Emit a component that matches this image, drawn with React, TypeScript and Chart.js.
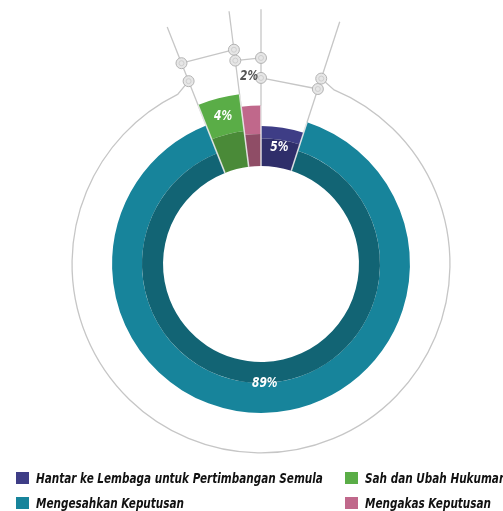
import React, { useEffect, useRef } from 'react';
import { Chart, registerables } from 'chart.js';

Chart.register(...registerables);

// ---- data ----
const categories = [
  'Hantar ke Lembaga untuk Pertimbangan Semula',
  'Mengesahkan Keputusan',
  'Sah dan Ubah Hukuman',
  'Mengakas Keputusan',
];
const values = [5, 89, 4, 2];
const valueLabels = ['5%', '89%', '4%', '2%'];
const legendOrder = [0, 2, 1, 3];

// ---- styling ----
const lightColors = ['#3e3d86', '#17849b', '#5aad47', '#c0688b'];
const darkColors = ['#2f2e6a', '#126474', '#4a8a38', '#8f4d66'];
const labelColors = ['#ffffff', '#ffffff', '#ffffff', '#555555'];
// radial extents as fractions of the chart's outer radius
const HOLE = 0.573;
const bandSplit = [0.735, 0.696, 0.784, 0.76];
const segOuter = [0.807, 0.871, 1.0, 0.927];
const labelRadius = [0.69, 0.696, 0.89, 1.1];

const FONT = '"Liberation Sans Narrow", "DejaVu Sans Condensed", "Noto Sans", sans-serif';

const shapePlugin = {
  id: 'shapePlugin',
  afterDatasetsUpdate(chart: any) {
    const ca = chart.chartArea;
    const R = Math.min(ca.right - ca.left, ca.bottom - ca.top) / 2;
    const m0 = chart.getDatasetMeta(0);
    const m1 = chart.getDatasetMeta(1);
    m0.data.forEach((arc: any, i: number) => {
      arc.innerRadius = HOLE * R;
      arc.outerRadius = bandSplit[i] * R;
    });
    m1.data.forEach((arc: any, i: number) => {
      arc.innerRadius = bandSplit[i] * R;
      arc.outerRadius = segOuter[i] * R;
    });
  },
  beforeDatasetsDraw(chart: any) {
    const ctx = chart.ctx;
    const ca = chart.chartArea;
    const R = Math.min(ca.right - ca.left, ca.bottom - ca.top) / 2;
    const cx = (ca.left + ca.right) / 2;
    const cy = (ca.top + ca.bottom) / 2;
    const arcs = chart.getDatasetMeta(1).data;
    const b = arcs.map((a: any) => a.startAngle);
    const pt = (ang: number, rf: number) => [cx + Math.cos(ang) * rf * R, cy + Math.sin(ang) * rf * R];

    ctx.save();
    ctx.strokeStyle = '#c6c6c6';
    ctx.lineWidth = 1.3;
    // radial guide lines
    b.forEach((ang: number) => {
      const [x1, y1] = pt(ang, HOLE);
      const [x2, y2] = pt(ang, 1.49);
      ctx.beginPath();
      ctx.moveTo(x1, y1);
      ctx.lineTo(x2, y2);
      ctx.stroke();
    });
    // outer ring
    const G = pt(b[1], 1.14);
    const H = pt(b[2], 1.15);
    ctx.beginPath();
    ctx.moveTo(G[0], G[1]);
    ctx.arc(cx, cy, 1.105 * R, b[1] + 0.08, b[2] - 0.08);
    ctx.lineTo(H[0], H[1]);
    ctx.stroke();
    // network links
    const A = pt(b[2], 1.263);
    const B = pt(b[3], 1.263);
    const C = pt(b[3], 1.199);
    const D = pt(b[0], 1.205);
    const E = pt(b[0], 1.088);
    const F = pt(b[1], 1.076);
    [[A, B], [C, D], [E, F]].forEach(([p, q]) => {
      ctx.beginPath();
      ctx.moveTo(p[0], p[1]);
      ctx.lineTo(q[0], q[1]);
      ctx.stroke();
    });
    ctx.restore();
    chart.$nodes = [A, B, C, D, E, F, G, H];
  },
  afterDatasetsDraw(chart: any) {
    const ctx = chart.ctx;
    const ca = chart.chartArea;
    const R = Math.min(ca.right - ca.left, ca.bottom - ca.top) / 2;
    const cx = (ca.left + ca.right) / 2;
    const cy = (ca.top + ca.bottom) / 2;
    const arcs = chart.getDatasetMeta(1).data;
    ctx.save();
    // separators between segments
    ctx.strokeStyle = 'rgba(235,235,235,0.9)';
    ctx.lineWidth = 1.5;
    arcs.forEach((a: any, i: number) => {
      const prev = (i + arcs.length - 1) % arcs.length;
      const rOut = Math.max(segOuter[i], segOuter[prev]);
      ctx.beginPath();
      ctx.moveTo(cx + Math.cos(a.startAngle) * HOLE * R, cy + Math.sin(a.startAngle) * HOLE * R);
      ctx.lineTo(cx + Math.cos(a.startAngle) * rOut * R, cy + Math.sin(a.startAngle) * rOut * R);
      ctx.stroke();
    });
    // nodes
    (chart.$nodes || []).forEach((p: number[]) => {
      ctx.beginPath();
      ctx.arc(p[0], p[1], 5.5, 0, Math.PI * 2);
      ctx.fillStyle = '#e6e6e6';
      ctx.fill();
      ctx.strokeStyle = '#b3b3b3';
      ctx.lineWidth = 1;
      ctx.stroke();
      ctx.beginPath();
      ctx.arc(p[0], p[1], 2.5, 0, Math.PI * 2);
      ctx.strokeStyle = '#cfcfcf';
      ctx.stroke();
    });
    // value labels (condensed horizontally)
    ctx.font = `italic bold 14px ${FONT}`;
    ctx.textAlign = 'center';
    ctx.textBaseline = 'middle';
    arcs.forEach((a: any, i: number) => {
      const mid = (a.startAngle + a.endAngle) / 2;
      const r = labelRadius[i] * R;
      const x = cx + Math.cos(mid) * r;
      const y = cy + Math.sin(mid) * r;
      ctx.save();
      ctx.translate(x, y);
      ctx.scale(0.85, 1);
      ctx.fillStyle = labelColors[i];
      ctx.fillText(valueLabels[i], 0, 0);
      ctx.restore();
    });
    ctx.restore();
  },
};

export default function App() {
  const ref = useRef<HTMLCanvasElement | null>(null);
  useEffect(() => {
    if (!ref.current) return;
    const chart = new Chart(ref.current, {
      type: 'doughnut',
      data: {
        labels: categories,
        datasets: [
          { data: values, backgroundColor: darkColors, borderWidth: 0 },
          { data: values, backgroundColor: lightColors, borderWidth: 0 },
        ],
      },
      options: {
        responsive: false,
        animation: false,
        rotation: 0,
        layout: { padding: { left: 90, top: 93, right: 71, bottom: 76 } },
        plugins: { legend: { display: false }, tooltip: { enabled: false } },
      },
      plugins: [shapePlugin],
    } as any);
    return () => chart.destroy();
  }, []);

  const rowsY = [471, 496];
  const colsX = [16, 345];
  return (
    <div style={{ position: 'fixed', left: 0, top: 0, width: 503, height: 511, background: '#fff', overflow: 'hidden' }}>
      <canvas ref={ref} width={503} height={511} style={{ position: 'absolute', left: 0, top: 0 }} />
      {legendOrder.map((idx, k) => {
        const col = k % 2;
        const row = Math.floor(k / 2);
        return (
          <div
            key={idx}
            style={{
              position: 'absolute',
              left: colsX[col],
              top: rowsY[row] - 1,
              height: 16,
              display: 'flex',
              alignItems: 'center',
              whiteSpace: 'nowrap',
              fontFamily: FONT,
              fontStyle: 'italic',
              fontWeight: 'bold',
              fontSize: 14,
              color: '#111',
            }}
          >
            <span style={{ display: 'inline-block', width: 13, height: 12, background: lightColors[idx], marginRight: 7, flex: 'none' }} />
            <span style={{ display: 'inline-block', transform: 'scaleX(0.83)', transformOrigin: 'left center' }}>
              {categories[idx]}
            </span>
          </div>
        );
      })}
    </div>
  );
}
